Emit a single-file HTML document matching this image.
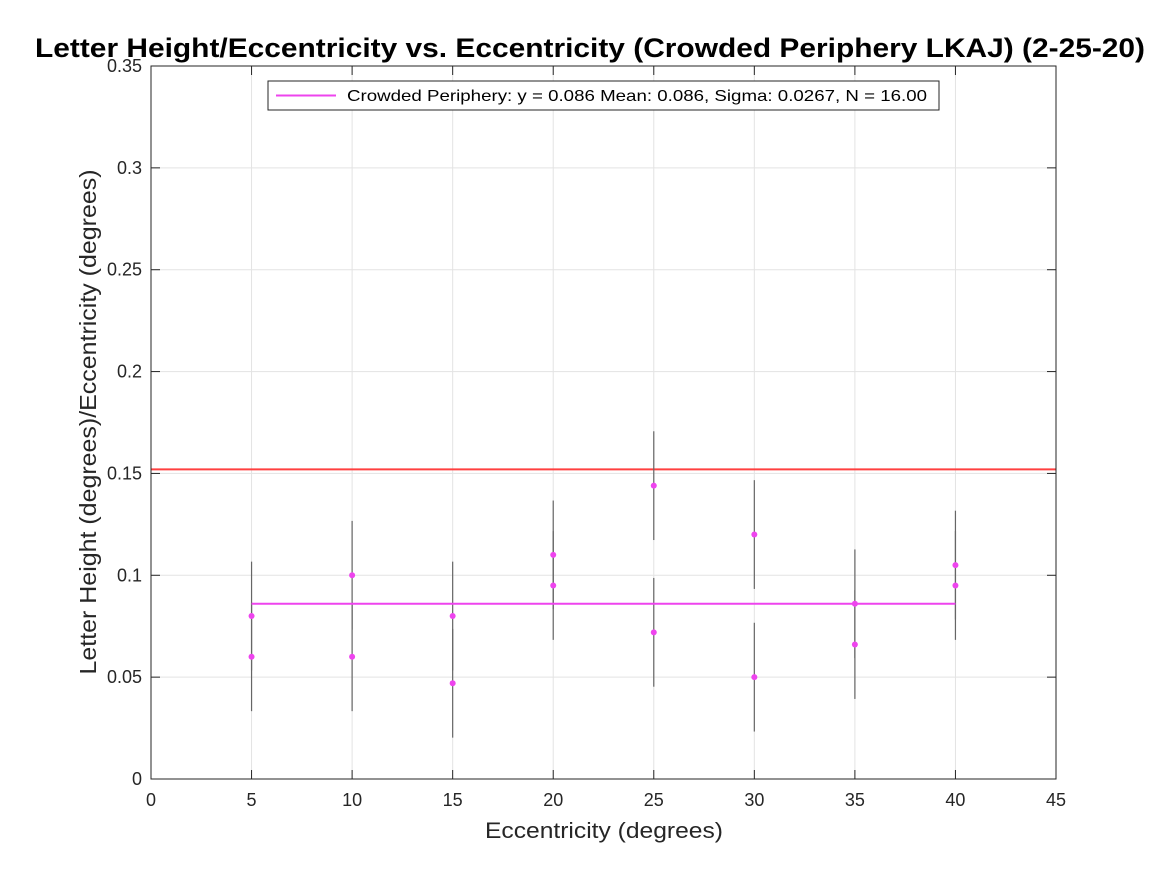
<!DOCTYPE html>
<html><head><meta charset="utf-8"><style>
body{margin:0;background:#fff;}
svg{display:block;font-family:"Liberation Sans",Arial,sans-serif;}
</style></head><body>
<svg id="chart" width="1167" height="875">
<text x="590" y="57" text-anchor="middle" font-size="27" font-weight="bold" fill="#000" textLength="1110" lengthAdjust="spacingAndGlyphs">Letter Height/Eccentricity vs. Eccentricity (Crowded Periphery LKAJ) (2-25-20)</text>
<text x="604" y="838" text-anchor="middle" font-size="22" fill="#262626" textLength="238" lengthAdjust="spacingAndGlyphs">Eccentricity (degrees)</text>
<text transform="translate(96,422) rotate(-90)" text-anchor="middle" font-size="23" fill="#262626" textLength="505" lengthAdjust="spacingAndGlyphs">Letter Height (degrees)/Eccentricity (degrees)</text>
<g id="grid"></g><g id="marks"></g><g id="axes"></g>
<g>
<rect x="268" y="81" width="671" height="29" fill="#fff" stroke="#262626" stroke-width="1"/>
<line x1="276" y1="95.5" x2="336" y2="95.5" stroke="#ee44ee" stroke-width="2"/>
<text x="347" y="101" font-size="16" fill="#000" textLength="580" lengthAdjust="spacingAndGlyphs">Crowded Periphery: y = 0.086 Mean: 0.086, Sigma: 0.0267, N = 16.00</text>
</g>
</svg>
<script>
const xs=[5,5,10,10,15,15,20,20,25,25,30,30,35,35,40,40];
const ys=[0.08,0.06,0.1,0.06,0.08,0.047,0.11,0.095,0.144,0.072,0.12,0.05,0.086,0.066,0.105,0.095];
const sigma=0.0267, mean=0.086, refLine=0.152;
const xTicks=[0,5,10,15,20,25,30,35,40,45];
const yTicks=[0,0.05,0.1,0.15,0.2,0.25,0.3,0.35];
const yLabels=["0","0.05","0.1","0.15","0.2","0.25","0.3","0.35"];
const X0=151,X1=1056,Y0=779,Y1=66;
const sx=v=>X0+(v-0)/45*(X1-X0);
const sy=v=>Y0-(v-0)/0.35*(Y0-Y1);
const NS="http://www.w3.org/2000/svg";
function mk(par,tag,at){const e=document.createElementNS(NS,tag);for(const k in at)e.setAttribute(k,at[k]);par.appendChild(e);return e;}
const grid=document.getElementById('grid'),marks=document.getElementById('marks'),axes=document.getElementById('axes');
xTicks.forEach(t=>{const l=mk(grid,'line',{x1:sx(t),x2:sx(t),y1:Y1,y2:Y0,stroke:'#e3e3e3','stroke-width':1});

const tl=mk(axes,'text',{x:sx(t),y:Y0+27,'text-anchor':'middle','font-size':18,fill:'#262626'});tl.textContent=t;

mk(axes,'line',{x1:sx(t),x2:sx(t),y1:Y0,y2:Y0-9,stroke:'#262626'});mk(axes,'line',{x1:sx(t),x2:sx(t),y1:Y1,y2:Y1+9,stroke:'#262626'});});
yTicks.forEach((t,i)=>{const l=mk(grid,'line',{x1:X0,x2:X1,y1:sy(t),y2:sy(t),stroke:'#e3e3e3','stroke-width':1});

const tl=mk(axes,'text',{x:X0-9,y:sy(t)+6,'text-anchor':'end','font-size':18,fill:'#262626'});tl.textContent=yLabels[i];

mk(axes,'line',{x1:X0,x2:X0+9,y1:sy(t),y2:sy(t),stroke:'#262626'});mk(axes,'line',{x1:X1,x2:X1-9,y1:sy(t),y2:sy(t),stroke:'#262626'});});
const box=mk(axes,'rect',{x:X0,y:Y1,width:X1-X0,height:Y0-Y1,fill:'none',stroke:'#262626','stroke-width':1});

const red=mk(marks,'line',{x1:X0,x2:X1,y1:sy(refLine),y2:sy(refLine),stroke:'#ff4040','stroke-width':2});

xs.forEach((x,i)=>{const e=mk(marks,'line',{x1:sx(x),x2:sx(x),y1:sy(ys[i]+sigma),y2:sy(ys[i]-sigma),stroke:'#666','stroke-width':1.2});
});
const ml=mk(marks,'line',{x1:sx(Math.min(...xs)),x2:sx(Math.max(...xs)),y1:sy(mean),y2:sy(mean),stroke:'#ee44ee','stroke-width':2});

xs.forEach((x,i)=>{const c=mk(marks,'circle',{cx:sx(x),cy:sy(ys[i]),r:3,fill:'#ee44ee'});
});
</script>
</body></html>
